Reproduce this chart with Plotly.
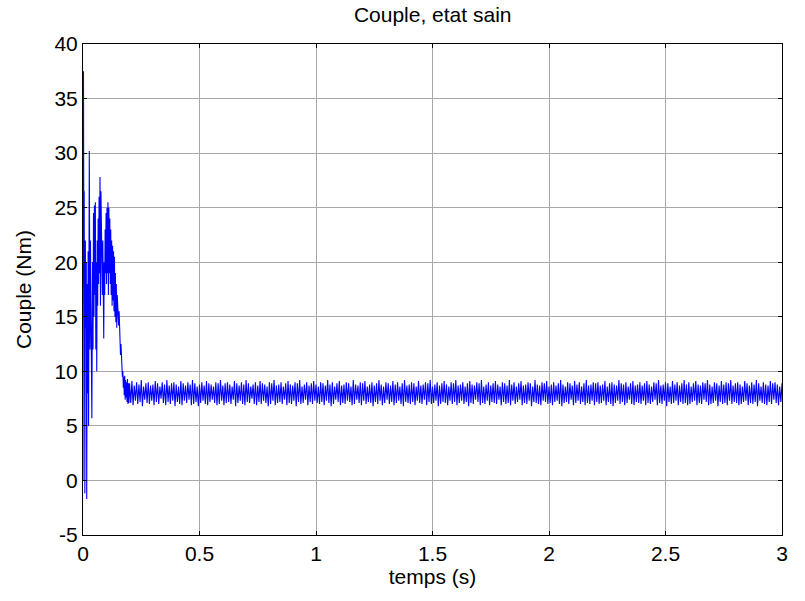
import numpy as np
import plotly.graph_objects as go

# --- start-up transient (time in s, torque in Nm) ---
t_start = [0.000, 0.002, 0.004, 0.005, 0.006, 0.007, 0.008, 0.010, 0.012, 0.014,
           0.016, 0.018, 0.020, 0.022, 0.024, 0.027, 0.030, 0.032, 0.035, 0.038,
           0.041, 0.043, 0.045, 0.047, 0.049, 0.051, 0.053, 0.055, 0.057, 0.059,
           0.061, 0.063, 0.065, 0.067, 0.069, 0.071, 0.073, 0.075, 0.077, 0.079,
           0.081, 0.083, 0.085, 0.087, 0.089, 0.091, 0.093, 0.095, 0.097, 0.099,
           0.101, 0.103, 0.105, 0.107, 0.109, 0.111, 0.113, 0.115, 0.117, 0.119,
           0.121, 0.123, 0.125, 0.127, 0.129, 0.131, 0.133, 0.135, 0.137, 0.139,
           0.141, 0.143, 0.145, 0.147, 0.149, 0.151, 0.153, 0.155, 0.157, 0.159,
           0.161, 0.163, 0.165, 0.167, 0.169, 0.171, 0.173, 0.175, 0.177, 0.179,
           0.181, 0.183, 0.185, 0.187, 0.189, 0.191, 0.193, 0.195, 0.197]
v_start = [0.0, 37.5, 18.0, 26.5, 17.5, 25.0, -1.2, 22.0, 14.0, 20.0,
           -1.7, 18.0, 8.0, 21.0, 5.0, 30.2, 12.0, 22.0, 7.0, 5.7,
           20.0, 12.0, 24.5, 15.0, 25.2, 17.0, 25.5, 12.0, 20.0, 10.0,
           22.0, 16.0, 24.0, 18.0, 26.0, 19.0, 27.8, 16.0, 26.5, 20.0,
           24.0, 17.0, 22.0, 14.0, 13.0, 20.0, 17.0, 23.0, 19.0, 24.5,
           18.0, 25.0, 19.0, 25.5, 17.0, 25.0, 19.0, 24.0, 18.0, 23.0,
           17.0, 22.0, 16.0, 21.5, 16.5, 21.0, 15.5, 20.5, 15.0, 19.0,
           14.5, 18.0, 14.0, 17.0, 15.0, 16.0, 14.2, 15.5, 13.0, 14.5,
           11.5, 12.5, 10.5, 11.0, 9.5, 10.0, 8.5, 9.5, 7.8, 9.6,
           7.4, 9.2, 7.6, 9.0, 7.2, 9.3, 7.0, 8.9, 7.1]

# --- steady state ripple: successive maxima and minima (Nm) ---
ss_t0 = 0.2
ss_dt = 0.005
ripple_high = [
    8.9, 9.1, 8.7, 9.0, 8.8, 9.2, 8.6, 8.9, 9.0, 8.7, 8.8, 9.1, 8.9, 8.6, 9.0, 8.8, 9.2, 8.7, 8.9, 9.0,
    8.8, 8.6, 9.1, 8.9, 8.7, 9.0, 8.8, 9.2, 8.9, 8.6, 8.8, 9.0, 8.7, 9.1, 8.9, 8.8, 8.6, 9.0, 8.9, 9.2,
    8.7, 8.9, 9.0, 8.8, 8.6, 9.1, 8.9, 8.7, 9.0, 8.8, 9.2, 8.9, 8.6, 8.8, 9.0, 8.7, 9.1, 8.9, 8.8, 8.6,
    9.0, 8.9, 9.2, 8.7, 8.8, 9.0, 8.6, 8.9, 9.1, 8.8, 8.7, 9.0, 8.9, 9.2, 8.6, 8.8, 9.0, 8.7, 8.9, 9.1,
    8.8, 8.6, 9.0, 8.9, 8.7, 9.2, 8.8, 9.0, 8.6, 8.9, 9.1, 8.7, 8.8, 9.0, 8.9, 8.6, 9.2, 8.8, 8.7, 9.0,
    8.9, 9.1, 8.6, 8.8, 9.0, 8.7, 8.9, 9.2, 8.8, 8.6, 9.0, 8.9, 8.7, 9.1, 8.8, 9.0, 8.6, 8.9, 9.2, 8.7,
    8.8, 9.0, 8.9, 8.6, 9.1, 8.7, 8.8, 9.0, 8.9, 9.2, 8.6, 8.8, 9.0, 8.7, 8.9, 9.1, 8.8, 8.6, 9.0, 8.9,
    9.2, 8.7, 8.8, 9.0, 8.6, 8.9, 9.1, 8.8, 8.7, 9.0, 8.9, 9.2, 8.6, 8.8, 9.0, 8.7, 8.9, 9.1, 8.8, 8.6,
    9.0, 8.9, 8.7, 9.2, 8.8, 9.0, 8.6, 8.9, 9.1, 8.7, 8.8, 9.0, 8.9, 8.6, 9.2, 8.8, 8.7, 9.0, 8.9, 9.1,
    8.6, 8.8, 9.0, 8.7, 8.9, 9.2, 8.8, 8.6, 9.0, 8.9, 8.7, 9.1, 8.8, 9.0, 8.6, 8.9, 9.2, 8.7, 8.8, 9.0,
    8.9, 9.0, 8.7, 8.8, 9.1, 8.6, 8.9, 9.0, 8.8, 8.7, 9.2, 8.9, 8.8, 9.0, 8.6, 8.9, 9.1, 8.7, 8.8, 9.0,
    8.7, 8.9, 9.1, 8.8, 8.6, 9.0, 8.9, 9.2, 8.7, 8.8, 9.0, 8.9, 8.6, 9.1, 8.8, 9.0, 8.7, 8.9, 9.2, 8.8,
    9.0, 8.6, 8.9, 9.1, 8.8, 8.7, 9.0, 8.9, 9.2, 8.8, 8.6, 9.0, 8.9, 8.7, 9.1, 8.8, 9.0, 8.9, 9.2, 8.7,
    8.9, 9.0, 8.8, 8.6, 9.1, 8.9, 8.7, 9.0, 8.8, 9.2, 8.9, 8.6, 9.0, 8.8, 8.7, 9.1, 8.9, 9.0, 8.8, 8.6,
    8.9,
]
ripple_low = [
    7.1, 6.9, 7.3, 7.0, 7.2, 6.8, 7.4, 7.1, 7.0, 7.3, 6.9, 7.2, 7.0, 7.5, 7.1, 6.9, 7.2, 7.0, 7.3, 6.8,
    7.2, 7.0, 6.9, 7.3, 7.1, 7.4, 6.9, 7.0, 7.2, 6.8, 7.1, 7.3, 7.0, 6.9, 7.2, 7.4, 7.1, 6.9, 7.0, 7.3,
    6.9, 7.1, 7.2, 7.0, 7.4, 6.8, 7.1, 7.3, 7.0, 6.9, 7.2, 7.1, 7.5, 7.0, 6.9, 7.2, 7.0, 7.3, 7.1, 6.8,
    7.0, 7.3, 6.9, 7.1, 7.2, 7.0, 7.4, 6.9, 7.1, 7.0, 7.3, 6.8, 7.2, 7.0, 7.1, 7.4, 6.9, 7.2, 7.0, 7.3,
    7.1, 7.0, 7.2, 6.9, 7.3, 7.1, 6.8, 7.0, 7.4, 7.2, 6.9, 7.1, 7.0, 7.3, 7.2, 6.9, 7.0, 7.4, 7.1, 6.9,
    7.3, 7.0, 7.2, 7.1, 6.8, 7.2, 7.0, 7.3, 6.9, 7.1, 7.4, 7.0, 7.2, 6.9, 7.1, 7.3, 7.0, 6.8, 7.2, 7.1,
    7.0, 7.2, 6.9, 7.3, 7.1, 7.0, 7.4, 6.9, 7.2, 7.0, 7.1, 7.3, 6.8, 7.0, 7.2, 7.1, 6.9, 7.3, 7.0, 7.2,
    6.9, 7.1, 7.3, 7.0, 7.2, 6.8, 7.1, 7.0, 7.4, 7.2, 6.9, 7.1, 7.0, 7.3, 6.9, 7.2, 7.1, 7.0, 7.4, 6.9,
    7.2, 7.0, 7.1, 6.9, 7.3, 7.0, 7.2, 7.4, 6.9, 7.1, 7.0, 7.3, 6.8, 7.2, 7.1, 7.0, 6.9, 7.3, 7.2, 7.0,
    7.1, 6.9, 7.2, 7.3, 7.0, 6.8, 7.1, 7.2, 7.0, 7.4, 6.9, 7.1, 7.3, 7.0, 7.2, 6.9, 7.1, 7.0, 7.3, 6.9,
    7.2, 7.0, 7.1, 7.3, 6.9, 7.2, 7.0, 6.8, 7.1, 7.3, 7.0, 7.2, 6.9, 7.1, 7.4, 7.0, 6.9, 7.2, 7.1, 7.0,
    7.3, 6.9, 7.1, 7.0, 7.2, 7.4, 6.9, 7.1, 7.0, 7.3, 6.8, 7.2, 7.0, 7.1, 7.3, 6.9, 7.2, 7.0, 7.1, 6.9,
    7.0, 7.2, 7.3, 6.9, 7.1, 7.0, 7.4, 7.2, 6.9, 7.0, 7.1, 7.3, 6.8, 7.2, 7.0, 7.1, 6.9, 7.3, 7.0, 7.2,
    7.1, 6.9, 7.0, 7.2, 7.3, 6.9, 7.1, 7.0, 7.2, 6.8, 7.3, 7.1, 7.0, 6.9, 7.2, 7.0, 7.4, 7.1, 6.9, 7.2,
]

x_ticks = [0, 0.5, 1, 1.5, 2, 2.5, 3]
y_ticks = [-5, 0, 5, 10, 15, 20, 25, 30, 35, 40]

# interleave maxima/minima at the sampling step
ss_vals = []
for i in range(len(ripple_high)):
    ss_vals.append(ripple_high[i])
    if i < len(ripple_low):
        ss_vals.append(ripple_low[i])
ss_time = ss_t0 + ss_dt * np.arange(len(ss_vals))

t_all = list(t_start) + list(ss_time)
v_all = list(v_start) + ss_vals

FONT = "Arial, Liberation Sans, sans-serif"
FS = 21

fig = go.Figure()
fig.add_trace(go.Scatter(x=t_all, y=v_all, mode="lines",
                         line=dict(color="#0000ff", width=1.1),
                         showlegend=False, hoverinfo="skip"))

axis_common = dict(
    showline=True, linecolor="black", linewidth=1, mirror="allticks",
    ticks="inside", ticklen=4, tickcolor="black", tickwidth=1,
    showgrid=True, gridcolor="#a8a8a8", gridwidth=1,
    zeroline=False,
    tickfont=dict(family=FONT, size=FS, color="black"),
)

fig.update_layout(
    width=805, height=601,
    margin=dict(l=83, r=23, t=44, b=66),
    paper_bgcolor="white", plot_bgcolor="white",
    title=dict(text="Couple, etat sain", x=0.5375, xanchor="center",
               y=1 - 15 / 601, yanchor="middle", yref="container",
               font=dict(family=FONT, size=FS, color="black")),
    xaxis=dict(range=[0, 3], tickvals=x_ticks,
               ticktext=[("%g" % v) for v in x_ticks],
               title=dict(text="temps (s)", standoff=5,
                          font=dict(family=FONT, size=FS, color="black")),
               **axis_common),
    yaxis=dict(range=[-5, 40], tickvals=y_ticks,
               ticktext=[("%g" % v) for v in y_ticks],
               title=dict(text="Couple (Nm)", standoff=17,
                          font=dict(family=FONT, size=FS, color="black")),
               **axis_common),
)

fig.write_html("out.html")
